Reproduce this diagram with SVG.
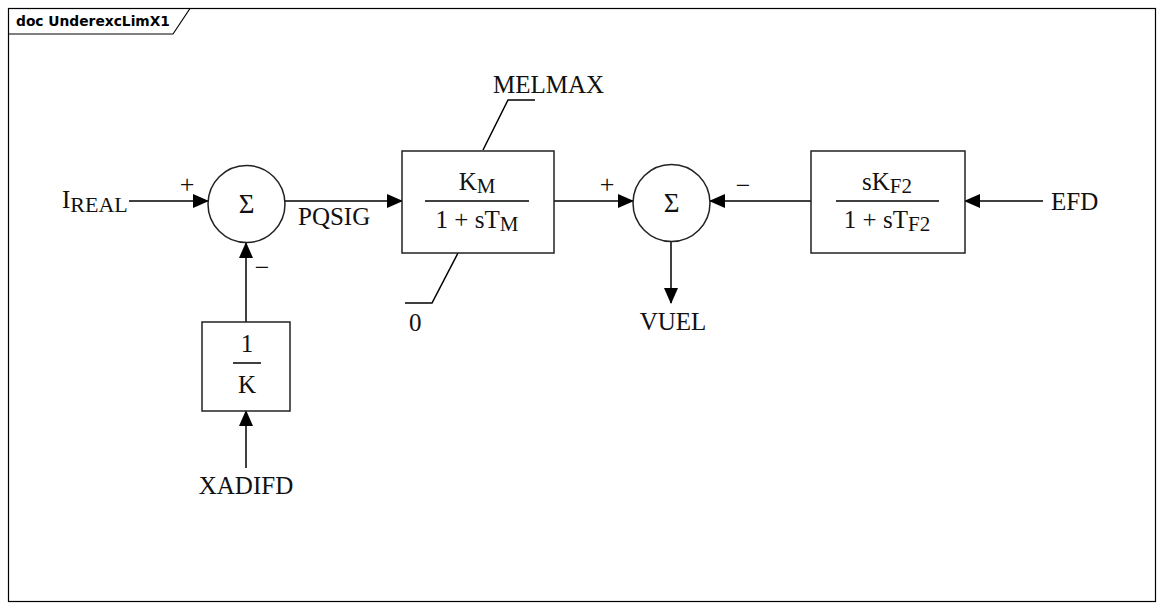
<svg xmlns="http://www.w3.org/2000/svg" width="1163" height="610" viewBox="0 0 1163 610">
<style>
.ln{stroke:#000;stroke-width:1.5;fill:none}
.bx{stroke:#222;stroke-width:1.5;fill:#fff}
.t{font-family:"Liberation Serif","Times New Roman",serif;font-size:25px;fill:#111}
.s{font-family:"Liberation Serif","Times New Roman",serif;font-size:25px;fill:#111}
.sig{font-family:"Liberation Serif","Times New Roman",serif;font-size:27px;fill:#111}
.sub{font-size:21px}
.sg{font-family:"Liberation Serif","Times New Roman",serif;font-size:26px;fill:#111}
.f{font-family:"DejaVu Sans",sans-serif;font-size:13.8px;font-weight:bold;fill:#000}
</style>
<defs>
<marker id="ah2" markerWidth="16" markerHeight="16" refX="15" refY="8" orient="auto" markerUnits="userSpaceOnUse" viewBox="0 0 16 16">
<path d="M0,1 L16,8 L0,15 Z" fill="#000"/>
</marker>
</defs>
<rect width="1163" height="610" fill="#fff"/>
<g id="frame">
<rect x="8.5" y="8.5" width="1147" height="593" fill="none" stroke="#000" stroke-width="1.2"/>
<path d="M8.5,34 L173,34 L190,8.5" fill="none" stroke="#000" stroke-width="1.2"/>
<text class="f" x="16" y="26">doc UnderexcLimX1</text>
</g>
<g id="connectors">
<line class="ln" x1="129" y1="201" x2="208" y2="201" marker-end="url(#ah2)"/>
<line class="ln" x1="285" y1="201" x2="402" y2="201" marker-end="url(#ah2)"/>
<line class="ln" x1="554" y1="201" x2="633" y2="201" marker-end="url(#ah2)"/>
<line class="ln" x1="811" y1="201" x2="710" y2="201" marker-end="url(#ah2)"/>
<line class="ln" x1="1043" y1="201" x2="965" y2="201" marker-end="url(#ah2)"/>
<line class="ln" x1="246" y1="322" x2="246" y2="243" marker-end="url(#ah2)"/>
<line class="ln" x1="246" y1="468" x2="246" y2="411" marker-end="url(#ah2)"/>
<line class="ln" x1="671" y1="241" x2="671" y2="303" marker-end="url(#ah2)"/>
<polyline class="ln" points="483,150 508,100 535,100"/>
<polyline class="ln" points="458,253 432,303 405,303"/>
</g>
<g id="in_ireal">
<text class="t" x="62" y="208">I<tspan font-size="22px" dy="4">REAL</tspan></text>
</g>
<g id="sum1">
<circle cx="246.5" cy="204" r="38.5" class="bx"/>
<text class="sig" x="246.5" y="213" text-anchor="middle">Σ</text>
<text class="sg" x="187" y="193" text-anchor="middle">+</text>
<text class="sg" x="262" y="276" text-anchor="middle">−</text>
</g>
<g id="pqsig"><text class="t" x="298" y="225">PQSIG</text></g>
<g id="block_km">
<rect x="402" y="151" width="152" height="102" class="bx"/>
<line class="ln" x1="425" y1="201" x2="529" y2="201" stroke-width="1.3"/>
<text class="s" x="477" y="190" text-anchor="middle">K<tspan class="sub" dy="3">M</tspan></text>
<text class="s" x="477" y="228" text-anchor="middle">1 + sT<tspan class="sub" dy="3">M</tspan></text>
</g>
<g id="lim_max"><text class="t" x="493" y="93">MELMAX</text></g>
<g id="lim_min"><text class="s" x="409" y="331">0</text></g>
<g id="sum2">
<circle cx="671.5" cy="203" r="38.5" class="bx"/>
<text class="sig" x="671.5" y="212" text-anchor="middle">Σ</text>
<text class="sg" x="607" y="193" text-anchor="middle">+</text>
<text class="sg" x="743" y="194" text-anchor="middle">−</text>
</g>
<g id="out_vuel"><text class="t" x="673" y="330" text-anchor="middle">VUEL</text></g>
<g id="block_f2">
<rect x="811" y="151" width="154" height="102" class="bx"/>
<line class="ln" x1="836" y1="201" x2="939" y2="201" stroke-width="1.3"/>
<text class="s" x="887" y="190" text-anchor="middle">sK<tspan class="sub" dy="3">F2</tspan></text>
<text class="s" x="887" y="228" text-anchor="middle">1 + sT<tspan class="sub" dy="3">F2</tspan></text>
</g>
<g id="in_efd"><text class="t" x="1051" y="210">EFD</text></g>
<g id="block_k">
<rect x="202" y="322" width="88" height="89" class="bx"/>
<line class="ln" x1="233" y1="363" x2="261" y2="363" stroke-width="1.3"/>
<text class="s" x="247" y="352" text-anchor="middle">1</text>
<text class="s" x="247" y="393" text-anchor="middle">K</text>
</g>
<g id="in_xadifd"><text class="t" x="246" y="494" text-anchor="middle">XADIFD</text></g>
</svg>
